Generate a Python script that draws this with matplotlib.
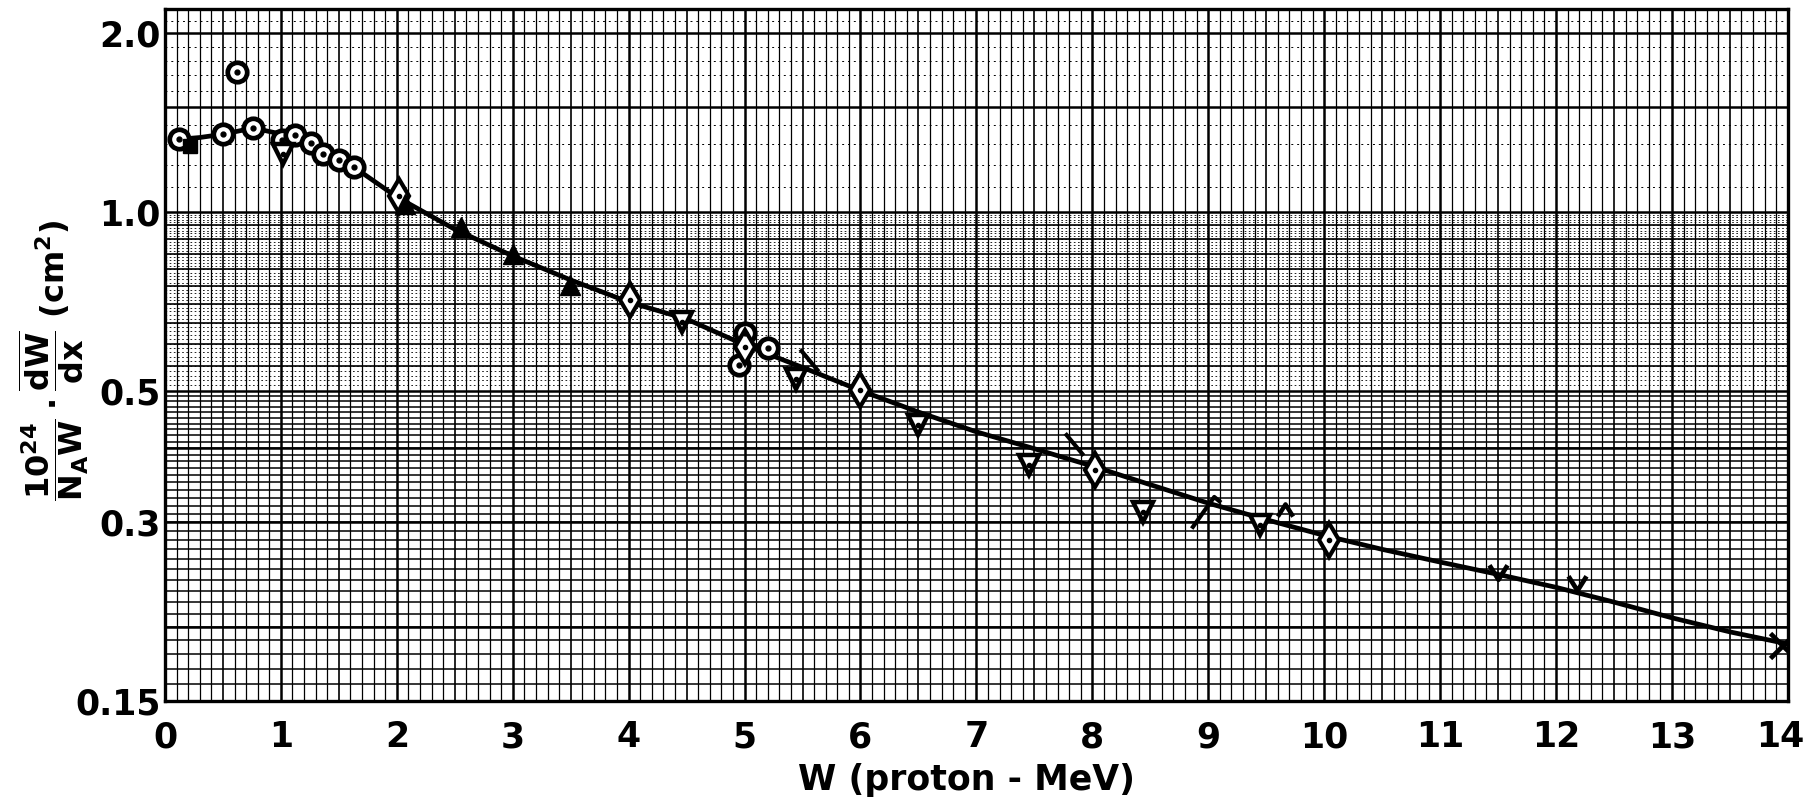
import numpy as np
import matplotlib
matplotlib.use('Agg')
import matplotlib.pyplot as plt
import matplotlib.transforms as mtransforms
from matplotlib.ticker import NullLocator

plt.rcParams['font.family'] = ['DejaVu Sans']
plt.rcParams['font.weight'] = 'bold'
plt.rcParams['mathtext.fontset'] = 'dejavusans'
plt.rcParams['mathtext.default'] = 'bf'

# smooth curve drawn through the data
curve_w = [0.1, 0.3, 0.5, 0.76, 0.95, 1.12, 1.25, 1.36, 1.5, 1.63, 2.0, 2.5,
           3.0, 3.5, 4.0, 4.5, 5.0, 5.5, 6.0, 6.5, 7.0, 7.5, 8.0, 8.5, 9.0,
           9.5, 10.0, 10.5, 11.0, 11.5, 12.0, 12.5, 13.0, 13.5, 14.0]
curve_v = [1.325, 1.335, 1.352, 1.385, 1.36, 1.345, 1.31, 1.265, 1.225, 1.19,
           1.06, 0.935, 0.843, 0.768, 0.705, 0.66, 0.597, 0.547, 0.50, 0.46,
           0.426, 0.399, 0.373, 0.347, 0.323, 0.303, 0.285, 0.270, 0.257,
           0.245, 0.233, 0.220, 0.207, 0.196, 0.187]

# dotted circles
circ_w = [0.12, 0.50, 0.62, 0.76, 1.01, 1.12, 1.26, 1.36, 1.50, 1.63,
          5.00, 5.20, 4.95]
circ_v = [1.325, 1.352, 1.72, 1.387, 1.324, 1.35, 1.309, 1.254, 1.222, 1.19,
          0.624, 0.589, 0.553]

# open down triangles
tdn_w = [1.02, 4.46, 5.44, 6.50, 7.45, 8.44, 9.45]
tdn_v = [1.254, 0.653, 0.522, 0.437, 0.3745, 0.3125, 0.297]

# open diamonds
dia_w = [2.02, 4.01, 5.00, 6.00, 8.02, 10.04]
dia_v = [1.065, 0.710, 0.592, 0.501, 0.368, 0.280]

# filled up triangles
tup_w = [2.07, 2.55, 3.00, 3.49]
tup_v = [1.03, 0.943, 0.851, 0.753]

# filled square
sq_w = [0.22]
sq_v = [1.29]

# hand-drawn ticks and crosses
bslash_w = [5.56, 7.84]
bslash_v = [0.563, 0.407]
hook_w = [8.99]
hook_v = [0.3146]
caret_w = [9.66]
caret_v = [0.315]
check_w = [11.50, 12.18]
check_v = [0.2475, 0.2366]
cross_w = [13.95]
cross_v = [0.1864]

ytick_vals = [0.15, 0.3, 0.5, 1.0, 2.0]
ytick_labels = ['0.15', '0.3', '0.5', '1.0', '2.0']
xtick_vals = list(range(0, 15))

fig = plt.figure(figsize=(18.03, 8), dpi=100)
ax = fig.add_axes([0.0915, 0.124, 0.9001, 0.865])
ax.set_yscale('log')
ax.set_xlim(0, 14)
ax.set_ylim(0.15, 2.2)

# graph paper
for x in np.arange(0.1, 14.0, 0.1):
    r = round(x, 1)
    if abs(r - round(r)) < 1e-6:
        lw = 1.8
    elif abs(r * 2 - round(r * 2)) < 1e-6:
        lw = 1.2
    else:
        lw = 0.9
    ax.axvline(r, color='black', lw=lw, zorder=1)

for y in np.arange(0.16, 0.5, 0.01):
    ax.axhline(y, color='black', lw=1.1, zorder=1)
for y in np.arange(0.51, 1.0, 0.01):
    ax.axhline(y, color='black', lw=0.6, ls=(0, (2, 3)), zorder=1)
for y in np.arange(0.55, 1.0, 0.05):
    ax.axhline(y, color='black', lw=1.2, zorder=1)
for y in np.arange(1.1, 2.2, 0.1):
    ax.axhline(y, color='black', lw=0.7, ls=(0, (2, 4)), zorder=1)
for y in [0.2, 0.3, 0.4, 0.5, 1.0, 1.5, 2.0]:
    ax.axhline(y, color='black', lw=1.8, zorder=1)

# curve
ax.plot(curve_w, curve_v, color='black', lw=3.4, zorder=3,
        solid_capstyle='round')

# markers
ax.plot(circ_w, circ_v, 'o', ms=14, mfc='white', mec='black', mew=3.4, zorder=4)
ax.plot(circ_w, circ_v, 'o', ms=3.5, color='black', zorder=5)
ax.plot(tdn_w, tdn_v, 'v', ms=15, mfc='white', mec='black', mew=3.2, zorder=4)
ax.plot(tdn_w, tdn_v, 'o', ms=3, color='black', zorder=5)
ax.plot(dia_w, dia_v, 'd', ms=17, mfc='white', mec='black', mew=3, zorder=4)
ax.plot(dia_w, dia_v, 'o', ms=3, color='black', zorder=5)
ax.plot(tup_w, tup_v, '^', ms=15, color='black', zorder=4)
ax.plot(sq_w, sq_v, 's', ms=10, color='black', zorder=4)

bslash = [(-0.5, 0.6), (0.5, -0.6)]
hook = [(-0.7, -0.8), (0.3, 0.6), (0.6, 0.35)]
caret = [(-0.5, -0.4), (0.0, 0.4), (0.5, -0.4)]
check = [(-0.5, 0.4), (0.0, -0.4), (0.5, 0.4)]
ax.plot(bslash_w, bslash_v, ls='none', marker=bslash, ms=16, mfc='none',
        mec='black', mew=3, zorder=4)
ax.plot(hook_w, hook_v, ls='none', marker=hook, ms=26, mfc='none',
        mec='black', mew=3, zorder=4)
ax.plot(caret_w, caret_v, ls='none', marker=caret, ms=11, mfc='none',
        mec='black', mew=3.2, zorder=4)
ax.plot(check_w, check_v, ls='none', marker=check, ms=13, mfc='none',
        mec='black', mew=3.4, zorder=4)
ax.plot(cross_w, cross_v, 'x', ms=18, mec='black', mew=3.4, zorder=4)

# axes and labels
for s in ax.spines.values():
    s.set_linewidth(2.4)
ax.yaxis.set_minor_locator(NullLocator())
ax.set_yticks(ytick_vals)
ax.set_yticklabels(ytick_labels)
ax.set_xticks(xtick_vals)
ax.set_xticklabels([str(v) for v in xtick_vals])
ax.tick_params(axis='both', length=0, labelsize=25)
ax.tick_params(axis='x', pad=14)
ax.tick_params(axis='y', pad=3)
for lab in ax.get_xticklabels() + ax.get_yticklabels():
    lab.set_fontweight('bold')
# last x label sits a little inside the edge, as on the original sheet
last = ax.get_xticklabels()[-1]
last.set_transform(last.get_transform() +
                   mtransforms.ScaledTranslation(-0.08, 0, fig.dpi_scale_trans))

fig.text(0.536, 0.025, 'W (proton - MeV)', ha='center', va='center',
         fontsize=25, fontweight='bold')
fig.text(0.030, 0.55,
         r'$\dfrac{10^{24}}{N_A W}\cdot\dfrac{\overline{dW}}{dx}\ (cm^2)$',
         rotation=90, ha='center', va='center', fontsize=23)

fig.savefig('out.png', dpi=100)
